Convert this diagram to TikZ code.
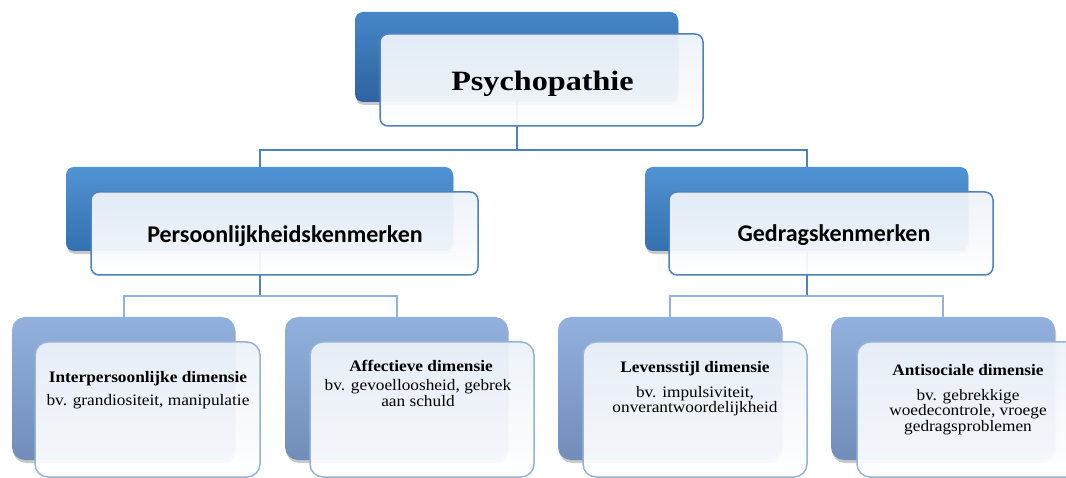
\documentclass[tikz,border=0pt]{standalone}
\usepackage{fontspec}
\setmainfont{Liberation Serif}[FakeStretch=1.15]
\newfontfamily\smallserif{Liberation Serif}[FakeStretch=1.08]
\newfontfamily\calib{Carlito}
\usetikzlibrary{shadows,calc}
\pgfdeclarelayer{background}
\pgfsetlayers{background,main}
\definecolor{topBackTop}{RGB}{70,134,199}
\definecolor{topBackBot}{RGB}{46,99,160}
\definecolor{midBackTop}{RGB}{80,147,212}
\definecolor{midBackBot}{RGB}{52,112,175}
\definecolor{lowBackTop}{RGB}{146,177,221}
\definecolor{lowBackBot}{RGB}{113,141,186}
\definecolor{frontTop}{RGB}{236,242,250}
\definecolor{borderDark}{RGB}{79,129,189}
\definecolor{borderLight}{RGB}{149,179,215}
\newcommand{\mylines}[1]{\begin{tabular}[t]{@{}c@{}}#1\end{tabular}}
\begin{document}
\begin{tikzpicture}[x=1pt,y=-1pt,
  boxbase/.style={rectangle, inner sep=0pt, outer sep=0pt},
  backbox/.style={boxbase, drop shadow={shadow xshift=1pt, shadow yshift=-3pt, opacity=0.3, fill=black!70}},
  topback/.style={backbox, rounded corners=8pt, top color=topBackTop, bottom color=topBackBot},
  midback/.style={backbox, rounded corners=8pt, top color=midBackTop, bottom color=midBackBot},
  lowback/.style={backbox, rounded corners=13pt, top color=lowBackTop, bottom color=lowBackBot},
  frontbox/.style={boxbase, top color=frontTop, bottom color=white, fill opacity=0.94, draw opacity=1, line width=1.5pt},
  topfront/.style={frontbox, rounded corners=8pt, draw=borderDark},
  lowfront/.style={frontbox, rounded corners=13pt, draw=borderLight},
  conndark/.style={draw=borderDark, line width=2pt},
  connlight/.style={draw=borderLight, line width=2pt},
  toptext/.style={anchor=base, inner sep=0pt, font={\fontsize{28}{30}\selectfont\bfseries}},
  midtext/.style={anchor=base, inner sep=0pt, font={\calib\fontsize{24}{26}\selectfont\bfseries}},
  headtext/.style={anchor=base, inner sep=0pt, font={\smallserif\fontsize{16}{15}\selectfont\bfseries}},
  bodytext/.style={anchor=base, inner sep=0pt, font={\smallserif\fontsize{16}{15}\selectfont}}
]
\useasboundingbox (0,0) rectangle (1066,478);

% level 1
\node[topback, minimum width=323pt, minimum height=90pt] (topB) at (516.5,57) {};
\node[topfront, minimum width=323pt, minimum height=92pt] (topF) at (541.5,80) {};
\node[toptext] (topT) at (542.5,91) {Psychopathie};

% level 2
\node[midback, minimum width=387pt, minimum height=84pt] (leftB) at (259.5,209) {};
\node[topfront, minimum width=387pt, minimum height=83pt] (leftF) at (284.5,233.5) {};
\node[midtext] (leftT) at (285,243) {Persoonlijkheidskenmerken};

\node[midback, minimum width=323pt, minimum height=84pt] (rightB) at (806.5,209) {};
\node[topfront, minimum width=324pt, minimum height=83pt] (rightF) at (831,233.5) {};
\node[midtext] (rightT) at (834,242) {Gedragskenmerken};

% level 3
\node[lowback, minimum width=223pt, minimum height=143pt] (aB) at (123.5,388.5) {};
\node[lowfront, minimum width=225pt, minimum height=135pt] (aF) at (147.5,409.5) {};
\node[headtext] (aH) at (148,383) {Interpersoonlijke dimensie};
\node[bodytext] (aT) at (148,405) {bv. grandiositeit, manipulatie};

\node[lowback, minimum width=223pt, minimum height=143pt] (bB) at (396.5,388.5) {};
\node[lowfront, minimum width=224pt, minimum height=135pt] (bF) at (422,409.5) {};
\node[headtext] (bH) at (421,372) {Affectieve dimensie};
\node[bodytext] (bT) at (418,391) {\mylines{bv. gevoelloosheid, gebrek\\aan schuld}};

\node[lowback, minimum width=224pt, minimum height=143pt] (cB) at (670,388.5) {};
\node[lowfront, minimum width=224pt, minimum height=135pt] (cF) at (695,409.5) {};
\node[headtext] (cH) at (695,373) {Levensstijl dimensie};
\node[bodytext] (cT) at (695,397) {\mylines{bv. impulsiviteit,\\onverantwoordelijkheid}};

\node[lowback, minimum width=224pt, minimum height=143pt] (dB) at (943,388.5) {};
\node[lowfront, minimum width=240pt, minimum height=135pt] (dF) at (977,409.5) {};
\node[headtext] (dH) at (968,376) {Antisociale dimensie};
\node[bodytext] (dT) at (968,400) {\mylines{bv. gebrekkige\\woedecontrole, vroege\\gedragsproblemen}};

% connectors
\begin{pgfonlayer}{background}
\coordinate (j1) at ($(topB.south)+(0,48)$);
\path[conndark] (topB.south) -- (j1) -| (leftB.north);
\path[conndark] (j1) -| (rightB.north);
\coordinate (j2) at ($(leftB.south)+(0,45)$);
\path[conndark] (leftB.south) -- (j2);
\path[connlight] (j2) -| (aB.north);
\path[connlight] (j2) -| (bB.north);
\coordinate (j3) at ($(rightB.south)+(0,45)$);
\path[conndark] (rightB.south) -- (j3);
\path[connlight] (j3) -| (cB.north);
\path[connlight] (j3) -| (dB.north);
\end{pgfonlayer}
\end{tikzpicture}
\end{document}
